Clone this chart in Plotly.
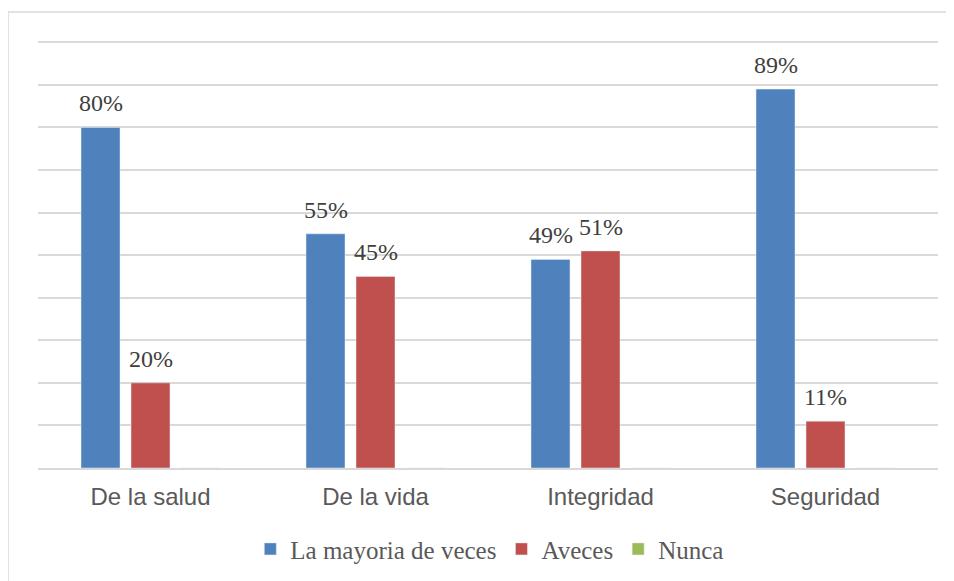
import plotly.graph_objects as go

categories = ["De la salud", "De la vida", "Integridad", "Seguridad"]
mayoria = [80, 55, 49, 89]
aveces = [20, 45, 51, 11]
nunca = [0, 0, 0, 0]
series_names = ["La mayoria de veces", "Aveces", "Nunca"]
colors = ["#4f81bd", "#c0504d", "#9bbb59"]

bargap = 1 / 3
n_series = 3
slot = (1 - bargap) / n_series

fig = go.Figure()
annotations = []
for k, (name, vals, col) in enumerate(zip(series_names, [mayoria, aveces, nunca], colors)):
    fig.add_trace(go.Bar(x=categories, y=vals, name=name, marker_color=col))
    if k < 2:
        offset = (k - (n_series - 1) / 2) * slot
        for i, v in enumerate(vals):
            annotations.append(dict(
                x=i + offset, y=v, xref="x", yref="y", text=f"{v}%",
                showarrow=False, yanchor="bottom", yshift=9,
                font=dict(family="Liberation Serif", size=24, color="#404040"),
            ))

fig.update_layout(
    width=954, height=581,
    margin=dict(l=30, r=24, t=33, b=121),
    paper_bgcolor="white", plot_bgcolor="white",
    barmode="group", bargap=bargap, bargroupgap=0.22,
    showlegend=True,
    legend=dict(orientation="h", x=0.502, xanchor="center", y=-0.19, yanchor="middle",
                font=dict(family="Liberation Serif", size=25, color="#595959"),
                traceorder="normal"),
    xaxis=dict(showgrid=False, showline=True, linecolor="#d9d9d9", linewidth=1.5,
               ticks="", tickfont=dict(family="Liberation Sans", size=24, color="#595959"),
               ticklabelstandoff=6),
    yaxis=dict(range=[0, 100.3], dtick=10, showgrid=True, gridcolor="#d9d9d9", gridwidth=1.5,
               showticklabels=False, zeroline=False, showline=False, ticks=""),
    shapes=[dict(type="rect", xref="paper", yref="paper",
                 x0=-30 / 900, x1=1.05, y0=-0.4, y1=1 + 29 / 427,
                 line=dict(color="#d9d9d9", width=1.5), fillcolor="rgba(0,0,0,0)", layer="below")],
    annotations=annotations,
)
fig.write_html("out.html")
